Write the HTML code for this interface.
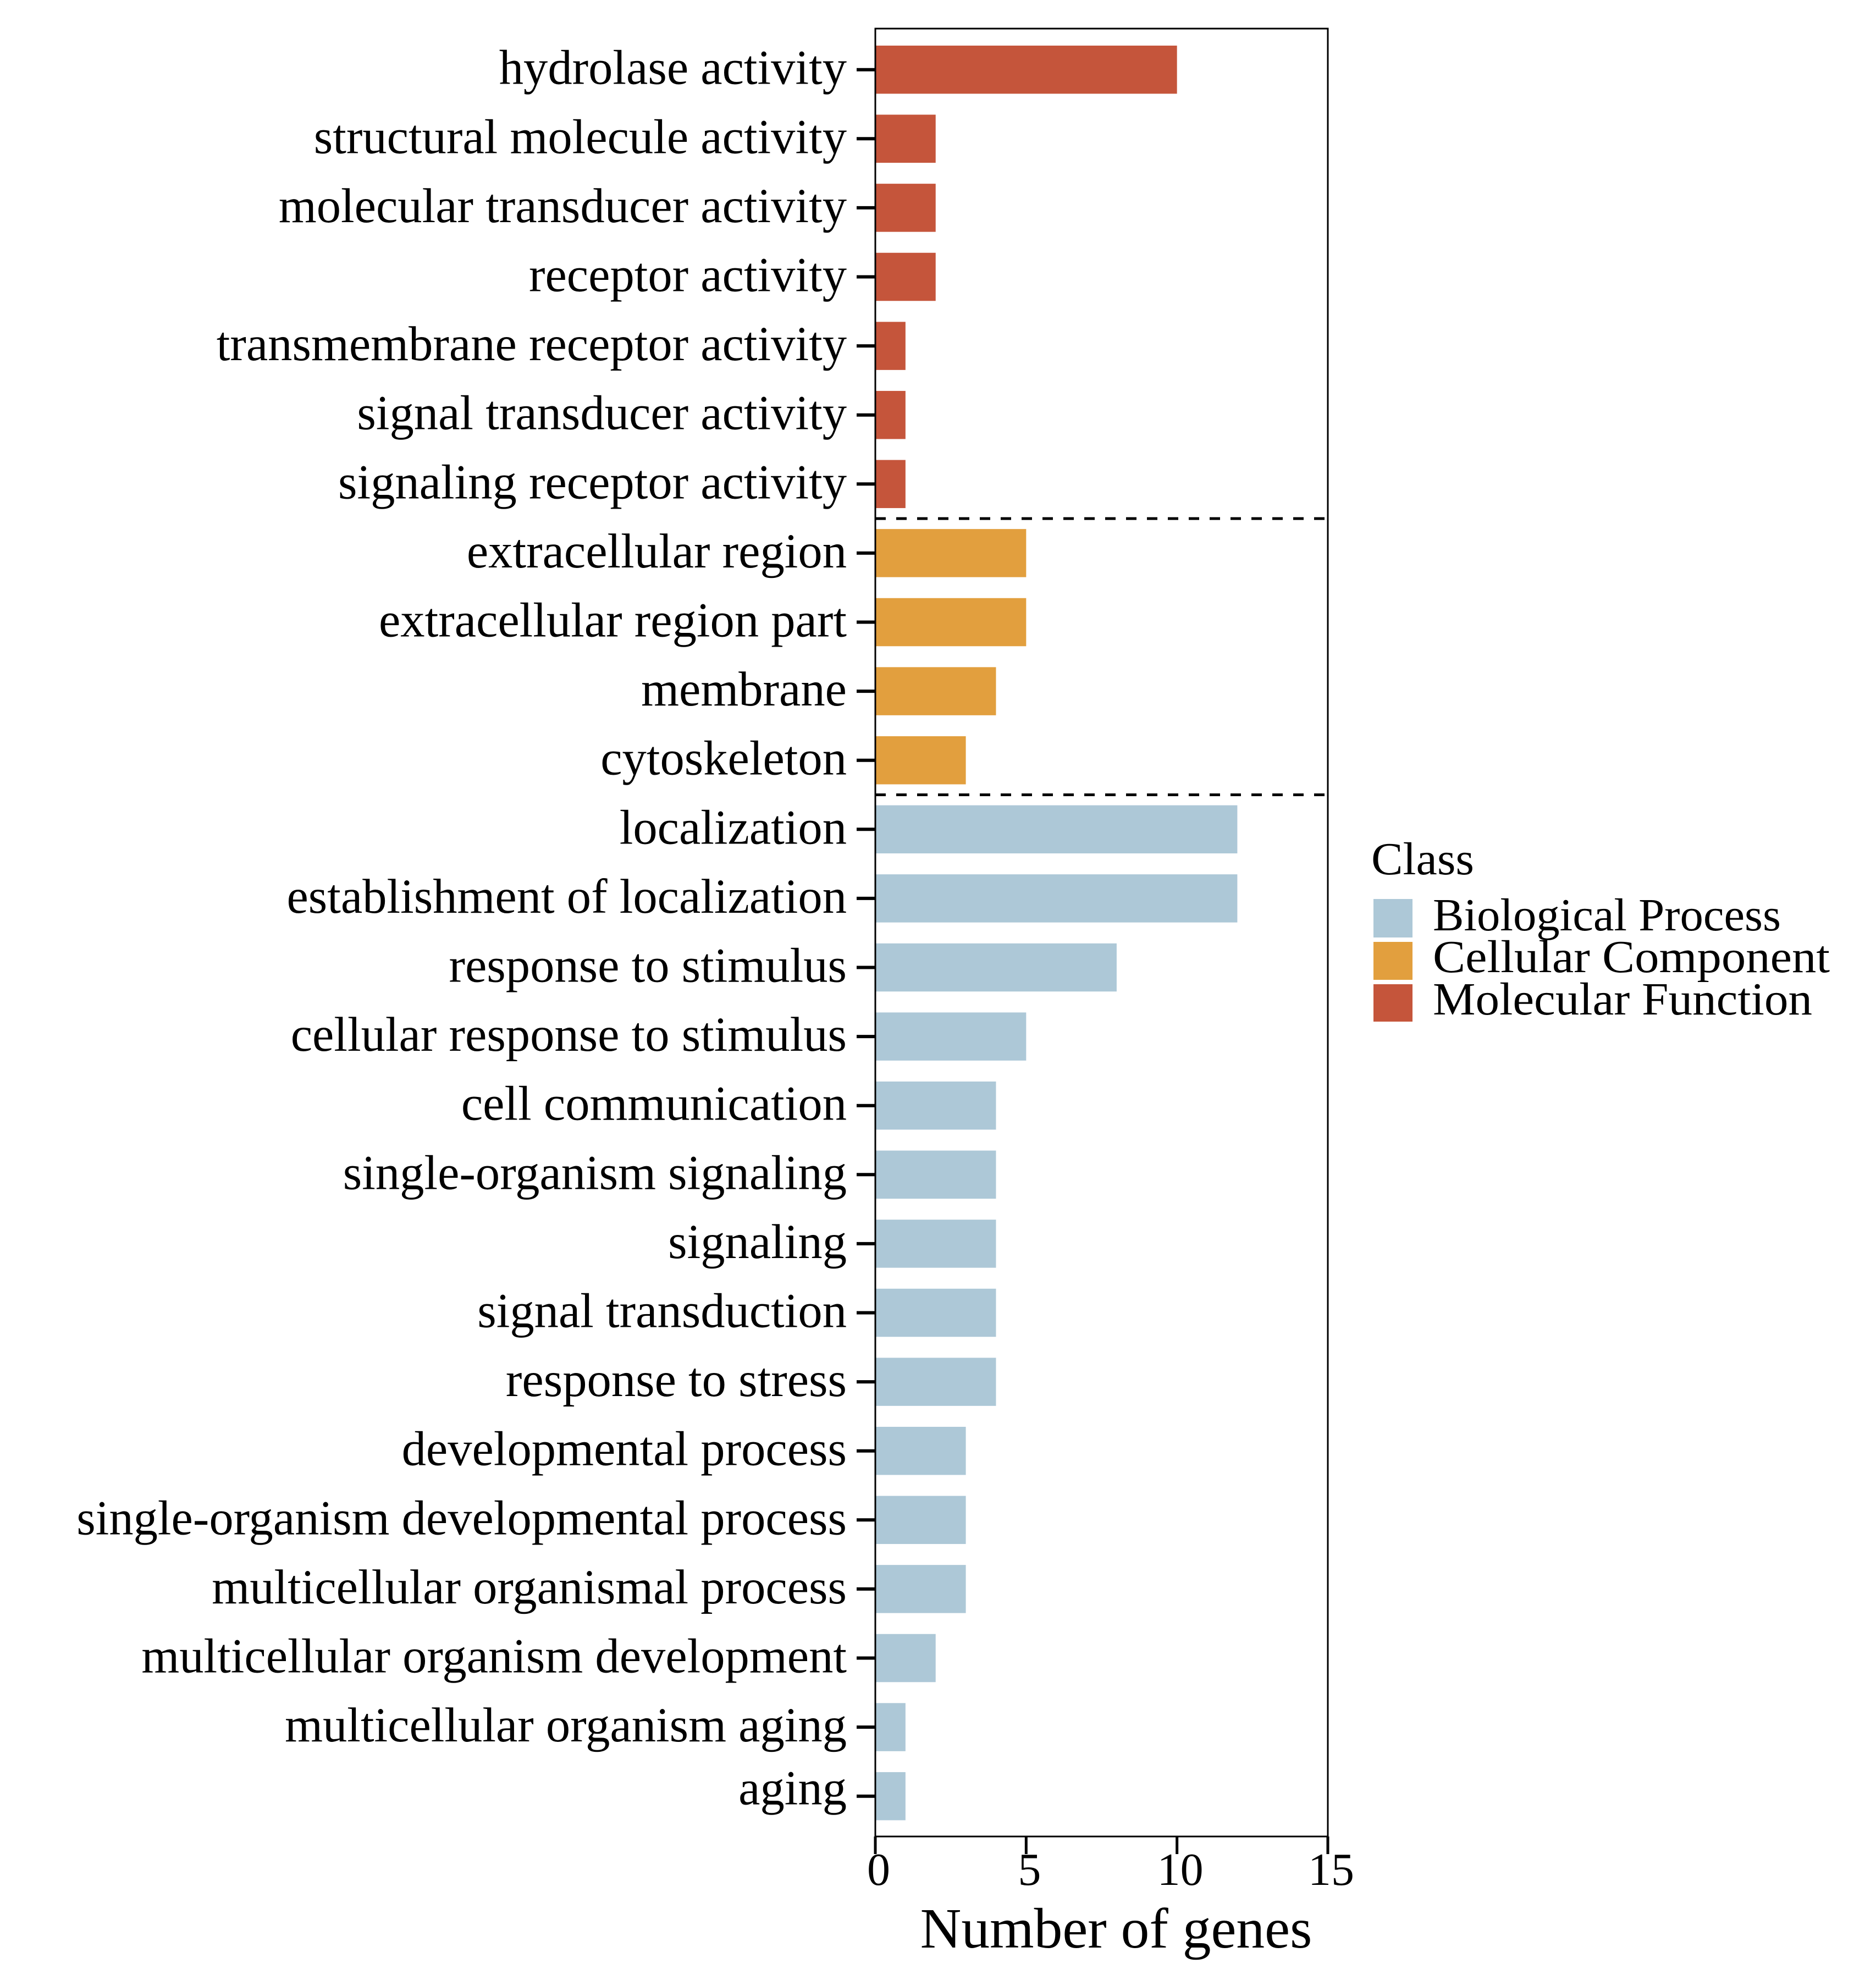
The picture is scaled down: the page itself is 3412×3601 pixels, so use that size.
<!DOCTYPE html>
<html lang="en">
<head>
<meta charset="utf-8">
<title>Number of genes by GO term</title>
<style>
  html, body { margin: 0; padding: 0; background: #ffffff; }
  svg { display: block; font-family: "Liberation Serif", "Times New Roman", serif; fill: #000; }
</style>
</head>
<body>
<svg id="chart" xmlns="http://www.w3.org/2000/svg" width="3412" height="3601" viewBox="0 0 3412 3601">
  <rect x="0" y="0" width="3412" height="3601" fill="#ffffff"/>
  <g id="bars"></g>
  <g id="y-axis"></g>
  <g id="separators"></g>
  <rect x="1592" y="52" width="823" height="3288" fill="none" stroke="#000" stroke-width="3"/>
  <g id="x-axis"></g>
  <text x="2030" y="3542" font-size="103.5" text-anchor="middle">Number of genes</text>
  <g>
    <text x="2494" y="1590" font-size="84" textLength="187" lengthAdjust="spacingAndGlyphs">Class</text>
    <g>
      <rect x="2498" y="1635" width="71" height="70" fill="#ADC8D7"/>
      <text x="2606" y="1692" font-size="84" textLength="633" lengthAdjust="spacingAndGlyphs">Biological Process</text>
    </g>
    <g>
      <rect x="2498" y="1713" width="71" height="69" fill="#E29F3E"/>
      <text x="2606" y="1768" font-size="84" textLength="722" lengthAdjust="spacingAndGlyphs">Cellular Component</text>
    </g>
    <g>
      <rect x="2498" y="1790" width="71" height="68" fill="#C5553B"/>
      <text x="2606" y="1845" font-size="84" textLength="690" lengthAdjust="spacingAndGlyphs">Molecular Function</text>
    </g>
  </g>
</svg>
<script>
// Chart data
const categories = [
  "hydrolase activity", "structural molecule activity", "molecular transducer activity",
  "receptor activity", "transmembrane receptor activity", "signal transducer activity",
  "signaling receptor activity",
  "extracellular region", "extracellular region part", "membrane", "cytoskeleton",
  "localization", "establishment of localization", "response to stimulus",
  "cellular response to stimulus", "cell communication", "single-organism signaling",
  "signaling", "signal transduction", "response to stress", "developmental process",
  "single-organism developmental process", "multicellular organismal process",
  "multicellular organism development", "multicellular organism aging", "aging"
];
const geneCounts = [10, 2, 2, 2, 1, 1, 1, 5, 5, 4, 3, 12, 12, 8, 5, 4, 4, 4, 4, 4, 3, 3, 3, 2, 1, 1];
const classes = [
  "MF", "MF", "MF", "MF", "MF", "MF", "MF",
  "CC", "CC", "CC", "CC",
  "BP", "BP", "BP", "BP", "BP", "BP", "BP", "BP", "BP", "BP", "BP", "BP", "BP", "BP", "BP"
];
const xTicks = [0, 5, 10, 15];

// Axis functions
const SVG_NS = "http://www.w3.org/2000/svg";
const classColor = { MF: "#C5553B", CC: "#E29F3E", BP: "#ADC8D7" };
const xScale = v => 1592 + v * (823 / 15);
const rowCenter = i => 126.7 + i * 125.6;
const BAR_H = 87.5;

function make(tag, attrs, parent) {
  const el = document.createElementNS(SVG_NS, tag);
  for (const k in attrs) el.setAttribute(k, attrs[k]);
  parent.appendChild(el);
  return el;
}
function slug(s) { return s.replace(/[^a-z0-9]+/gi, "-").toLowerCase(); }

const barsG = document.getElementById("bars");
const yG = document.getElementById("y-axis");
const xG = document.getElementById("x-axis");
const sepG = document.getElementById("separators");

categories.forEach((cat, i) => {
  const cy = rowCenter(i);
  const bar = make("rect", { x: xScale(0), y: cy - BAR_H / 2, width: xScale(geneCounts[i]) - xScale(0), height: BAR_H, fill: classColor[classes[i]] }, barsG);
  
  

  const tick = make("line", { x1: 1558, x2: xScale(0), y1: cy, y2: cy, stroke: "#000", "stroke-width": 6 }, yG);
  
  

  // The last label sits slightly higher in the reference figure
  const dy = cat === "aging" ? 15 : 26;
  const label = make("text", { x: 1540, y: cy + dy, "font-size": 88.6, "text-anchor": "end" }, yG);
  label.textContent = cat;
  
  

  // Dashed divider wherever the class changes
  if (i > 0 && classes[i] !== classes[i - 1]) {
    const sy = rowCenter(i) - 62.8;
    const sep = make("line", { x1: xScale(0), x2: xScale(15), y1: sy, y2: sy, stroke: "#000", "stroke-width": 5, "stroke-dasharray": "19 19" }, sepG);
    
    
  }
});

xTicks.forEach(t => {
  const x = xScale(t);
  const tick = make("line", { x1: x, x2: x, y1: 3340, y2: 3372, stroke: "#000", "stroke-width": 5 }, xG);
  
  

  const label = make("text", { x: x + 6, y: 3428, "font-size": 84, "text-anchor": "middle" }, xG);
  label.textContent = String(t);
  
  
});
</script>
</body>
</html>
